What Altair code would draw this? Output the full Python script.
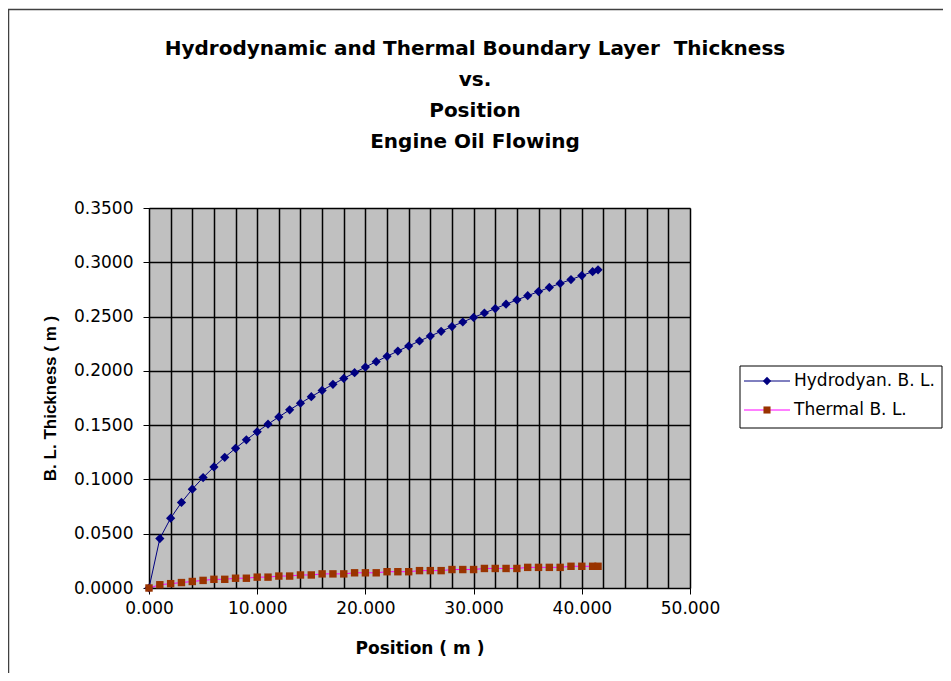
import altair as alt
import pandas as pd

positions = [0, 1, 2, 3, 4, 5, 6, 7, 8, 9, 10, 11, 12, 13, 14, 15, 16, 17, 18, 19, 20,
             21, 22, 23, 24, 25, 26, 27, 28, 29, 30, 31, 32, 33, 34, 35, 36, 37, 38, 39,
             40, 41, 41.5]
hydro = [0.0000, 0.0455, 0.0643, 0.0788, 0.0910, 0.1017, 0.1115, 0.1204, 0.1287, 0.1365,
         0.1439, 0.1509, 0.1576, 0.1641, 0.1702, 0.1762, 0.1820, 0.1876, 0.1930, 0.1983,
         0.2035, 0.2085, 0.2134, 0.2182, 0.2229, 0.2275, 0.2320, 0.2364, 0.2408, 0.2450,
         0.2492, 0.2533, 0.2574, 0.2614, 0.2653, 0.2692, 0.2730, 0.2768, 0.2805, 0.2841,
         0.2878, 0.2913, 0.2931]
thermal = [0.000, 0.003, 0.004, 0.005, 0.006, 0.007, 0.008, 0.008, 0.009, 0.009,
           0.010, 0.010, 0.011, 0.011, 0.012, 0.012, 0.013, 0.013, 0.013, 0.014,
           0.014, 0.014, 0.015, 0.015, 0.015, 0.016, 0.016, 0.016, 0.017, 0.017,
           0.017, 0.018, 0.018, 0.018, 0.018, 0.019, 0.019, 0.019, 0.019, 0.020,
           0.020, 0.020, 0.020]
series_names = ["Hydrodyan. B. L.", "Thermal B. L."]
title_lines = ["Hydrodynamic and Thermal Boundary Layer \u00a0Thickness", "vs.", "Position",
               "Engine Oil Flowing"]
x_title = "Position ( m )"
y_title = "B. L. Thickness ( m )"

FONT = "DejaVu Sans"
FONT_Y = "Liberation Sans"
NAVY = "#000080"
BROWN = "#993300"
MAGENTA = "#FF00FF"

df = pd.DataFrame({
    "pos": positions * 2,
    "val": hydro + thermal,
    "series": [series_names[0]] * len(positions) + [series_names[1]] * len(positions),
})

x_enc = alt.X("pos:Q", scale=alt.Scale(domain=[0, 50], nice=False),
              axis=alt.Axis(values=list(range(0, 51, 2)),
                            labelExpr="datum.value % 10 == 0 ? format(datum.value, '.3f') : ''",
                            tickColor={"condition": {"test": "datum.value % 10 == 0", "value": "black"},
                                       "value": "transparent"},
                            labelFlush=False, title=x_title, grid=True))
y_enc = alt.Y("val:Q", scale=alt.Scale(domain=[0, 0.35], nice=False),
              axis=alt.Axis(values=[0, 0.05, 0.1, 0.15, 0.2, 0.25, 0.3, 0.35], format=".4f",
                            labelFlush=False, title=y_title, grid=True))

base = alt.Chart(df).encode(x=x_enc, y=y_enc)
hyd = base.transform_filter(alt.datum.series == series_names[0])
thm = base.transform_filter(alt.datum.series == series_names[1])

hyd_line = hyd.mark_line(color=NAVY, strokeWidth=1)
hyd_pts = hyd.mark_point(shape="diamond", filled=True, color=NAVY, size=85, opacity=1)
thm_line = thm.mark_line(color=MAGENTA, strokeWidth=1)
thm_pts = thm.mark_point(shape="square", filled=True, color=BROWN, size=55, opacity=1)

one = pd.DataFrame({"k": [0]})
leg_box = alt.Chart(one).mark_rect(fill="white", stroke="black", strokeWidth=1).encode(
    x=alt.value(591), x2=alt.value(793), y=alt.value(158), y2=alt.value(220))
leg_l1 = alt.Chart(one).mark_rule(color=NAVY, strokeWidth=1).encode(
    x=alt.value(595), x2=alt.value(641), y=alt.value(173))
leg_p1 = alt.Chart(one).mark_point(shape="diamond", filled=True, color=NAVY, size=70, opacity=1).encode(
    x=alt.value(618), y=alt.value(173))
leg_t1 = alt.Chart(one).mark_text(align="left", baseline="middle", font=FONT, fontSize=17,
                                   color="black", text=series_names[0]).encode(
    x=alt.value(645), y=alt.value(173))
leg_l2 = alt.Chart(one).mark_rule(color=MAGENTA, strokeWidth=1).encode(
    x=alt.value(595), x2=alt.value(641), y=alt.value(202))
leg_p2 = alt.Chart(one).mark_point(shape="square", filled=True, color=BROWN, size=50, opacity=1).encode(
    x=alt.value(618), y=alt.value(202))
leg_t2 = alt.Chart(one).mark_text(align="left", baseline="middle", font=FONT, fontSize=17,
                                   color="black", text=series_names[1]).encode(
    x=alt.value(645), y=alt.value(202))

title_layers = []
for i, line in enumerate(title_lines):
    title_layers.append(
        alt.Chart(one).mark_text(align="center", baseline="middle", font=FONT, fontSize=20,
                                 fontWeight="bold", color="black", text=line).encode(
            x=alt.value(326), y=alt.value(-159 + 31 * i))
    )

frame_l = alt.Chart(one).mark_rule(color="#404040", strokeWidth=1.5).encode(
    x=alt.value(-140.5), y=alt.value(-199), y2=alt.value(480))
frame_t = alt.Chart(one).mark_rule(color="#404040", strokeWidth=1.5).encode(
    x=alt.value(-141), x2=alt.value(800), y=alt.value(-198.5))

chart = alt.layer(
    hyd_line, hyd_pts, thm_line, thm_pts,
    leg_box, leg_l1, leg_p1, leg_t1, leg_l2, leg_p2, leg_t2,
    *title_layers,
    frame_l, frame_t,
).properties(
    width=541, height=380,
    autosize=alt.AutoSizeParams(type="none"),
    padding={"left": 141, "top": 200, "right": 253, "bottom": 85},
).configure_view(
    fill="#C0C0C0", stroke="#808080", strokeWidth=1
).configure_axis(
    gridColor="black", gridWidth=1.5, gridOpacity=1,
    domainColor="black", domainWidth=1, tickColor="black", tickSize=6,
    labelFont=FONT, labelFontSize=17, labelColor="black",
    titleFont=FONT, titleFontSize=17, titleFontWeight="bold", titleColor="black",
).configure_axisY(titlePadding=14, labelPadding=10, titleFont=FONT_Y
).configure_axisX(titlePadding=24, labelPadding=6)

chart.save("out.html", embed_options={"renderer": "svg", "actions": False})
